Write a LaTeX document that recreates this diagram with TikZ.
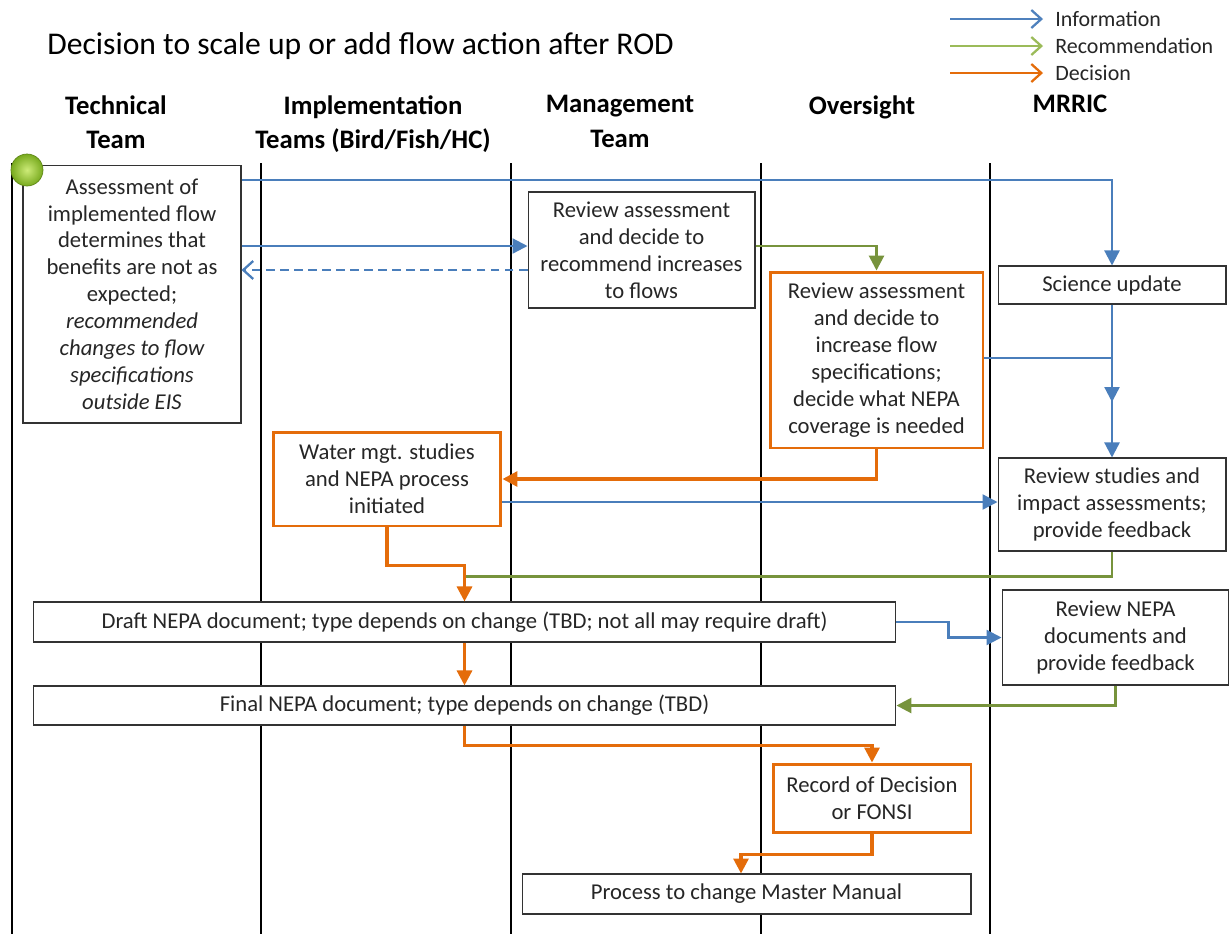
\documentclass[tikz,border=0pt]{standalone}
\usepackage{fontspec}
\setmainfont{Carlito}
\usetikzlibrary{arrows.meta}

\definecolor{infoblue}{RGB}{74,126,187}
\definecolor{recgreen}{RGB}{119,147,60}
\definecolor{decorange}{RGB}{228,108,10}
\definecolor{legblue}{RGB}{79,129,189}
\definecolor{leggreen}{RGB}{155,187,89}
\definecolor{boxtext}{RGB}{38,38,38}
\definecolor{startlight}{RGB}{205,235,120}
\definecolor{startdark}{RGB}{120,170,30}

\tikzset{
  laneline/.style={line width=1.3pt},
  lanehead/.style={font=\bfseries\fontsize{15.2}{19.6}\selectfont, align=center, anchor=north, inner sep=0pt},
  taskbox/.style={draw=black!80, line width=0.6pt, fill=white, align=center, inner sep=0pt,
    text=boxtext, font=\fontsize{12.9}{15.3}\selectfont},
  decbox/.style={taskbox, draw=decorange, line width=1.7pt},
  infoarrow/.style={draw=infoblue, line width=1.3pt, -{Triangle[length=0.3cm,width=0.3cm]}},
  recarrow/.style={draw=recgreen, line width=1.6pt, -{Triangle[length=0.3cm,width=0.3cm]}},
  decarrow/.style={draw=decorange, line width=1.8pt, -{Triangle[length=0.3cm,width=0.3cm]}},
  legtext/.style={anchor=west, inner sep=0pt, text=boxtext, font=\fontsize{12.5}{14}\selectfont},
}

\begin{document}
\begin{tikzpicture}[x=0.02cm, y=-0.02cm]
    \useasboundingbox (0,0) rectangle (1229,934);

    % Title and legend
    \node[anchor=base west, inner sep=0pt, font=\fontsize{18}{22}\selectfont] (title) at (47,54)
      {Decision to scale up or add flow action after ROD};
    \node[legtext] (leginfo) at (1055,19) {Information};
    \node[legtext] (legrec) at (1055,46) {Recommendation};
    \node[legtext] (legdec) at (1055,73) {Decision};
    \draw[legblue, line width=1.3pt, -{Straight Barb[length=0.2cm,width=0.36cm]}]
      ([xshift=-2.1cm]leginfo.west) -- ([xshift=-0.24cm]leginfo.west);
    \draw[leggreen, line width=1.3pt, -{Straight Barb[length=0.2cm,width=0.36cm]}]
      ([xshift=-2.1cm]legrec.west) -- ([xshift=-0.24cm]legrec.west);
    \draw[decorange, line width=1.3pt, -{Straight Barb[length=0.2cm,width=0.36cm]}]
      ([xshift=-2.1cm]legdec.west) -- ([xshift=-0.24cm]legdec.west);

    % Swim lanes
    \node[lanehead] (hTech) at (116,95) {Technical\\Team};
    \node[lanehead] (hImpl) at (373,95) {Implementation\\Teams (Bird/Fish/HC)};
    \node[lanehead] (hMgmt) at (620,95) {Management\\Team};
    \node[lanehead] (hOver) at (862,95) {Oversight};
    \node[lanehead] (hMrric) at (1070,95) {MRRIC};
    \foreach \x in {12,261,511,761,990}
        \draw[laneline] (\x,163) -- (\x,934);

    % Steps
    \node[taskbox, minimum width=4.36cm, minimum height=5.16cm] (assess) at (132,294)
      {Assessment of\\implemented flow\\determines that\\benefits are not as\\expected;\\
       \itshape recommended\\\itshape changes to flow\\\itshape specifications\\\itshape outside EIS};
    \node[taskbox, minimum width=4.54cm, minimum height=2.32cm] (mgmtrev) at (641.5,250)
      {Review assessment\\and decide to\\recommend increases\\to flows};
    \node[taskbox, minimum width=4.56cm, minimum height=0.76cm] (science) at (1112,285)
      {Science update};
    \node[decbox, minimum width=4.26cm, minimum height=3.52cm] (oversrev) at (876.5,360)
      {Review assessment\\and decide to\\increase flow\\specifications;\\decide what NEPA\\coverage is needed};
    \node[decbox, minimum width=4.56cm, minimum height=1.88cm] (water) at (387,479)
      {Water mgt. studies\\and NEPA process\\initiated};
    \node[taskbox, minimum width=4.56cm, minimum height=1.86cm] (revstud) at (1112,504.5)
      {Review studies and\\impact assessments;\\provide feedback};
    \node[taskbox, minimum width=17.26cm, minimum height=0.8cm] (draft) at (464.5,622)
      {Draft NEPA document; type depends on change (TBD; not all may require draft)};
    \node[taskbox, minimum width=4.54cm, minimum height=1.9cm] (revnepa) at (1115.5,637.5)
      {Review NEPA\\documents and\\provide feedback};
    \node[taskbox, minimum width=17.26cm, minimum height=0.78cm] (final) at (464.5,705.5)
      {Final NEPA document; type depends on change (TBD)};
    \node[decbox, minimum width=3.96cm, minimum height=1.36cm] (rod) at (872,798)
      {Record of Decision\\or FONSI};
    \node[taskbox, minimum width=8.98cm, minimum height=0.8cm] (manual) at (746.5,894)
      {Process to change Master Manual};

    % Start marker
    \shade[inner color=startlight, outer color=startdark, draw=startdark!80!black, line width=0.4pt]
      (27,170) circle (0.32cm);

    % Information flow
    \draw[infoarrow] ([yshift=-0.31cm]assess.north east) -| (science.north);
    \draw[infoarrow] ([yshift=0.08cm]mgmtrev.west -| assess.east) -- ([yshift=0.08cm]mgmtrev.west);
    \draw[infoarrow, dashed, dash pattern=on 5pt off 3pt, -{Straight Barb[length=0.2cm,width=0.36cm]}]
      ([yshift=-0.4cm]mgmtrev.west) -- ([yshift=-0.4cm]mgmtrev.west -| assess.east);
    \coordinate (merge) at (1112,402);
    \draw[infoarrow] ([yshift=0.04cm]oversrev.east) -| (merge);
    \draw[infoarrow] (science.south) -- (revstud.north);
    \draw[infoarrow] ([yshift=-0.46cm]water.east) -- ([yshift=-0.46cm]water.east -| revstud.west);
    \draw[infoarrow] (draft.east) -- ++(52,0) |- (revnepa.west);

    % Recommendations
    \draw[recarrow] ([yshift=0.08cm]mgmtrev.east) -| (oversrev.north);
    \draw[recarrow, -] (revstud.south) |- ([yshift=0.5cm]draft.north);
    \draw[recarrow] (revnepa.south) |- (final.east);

    % Decisions
    \draw[decarrow] (oversrev.south) |- (water.east);
    \draw[decarrow] (water.south) -- ++(0,38) -| (draft.north);
    \draw[decarrow] (draft.south) -- (final.north);
    \draw[decarrow] (final.south) -- ++(0,20) -| (rod.north);
    \draw[decarrow] (rod.south) -- ++(0,21) -| ([xshift=-0.11cm]manual.north);

\end{tikzpicture}
\end{document}
